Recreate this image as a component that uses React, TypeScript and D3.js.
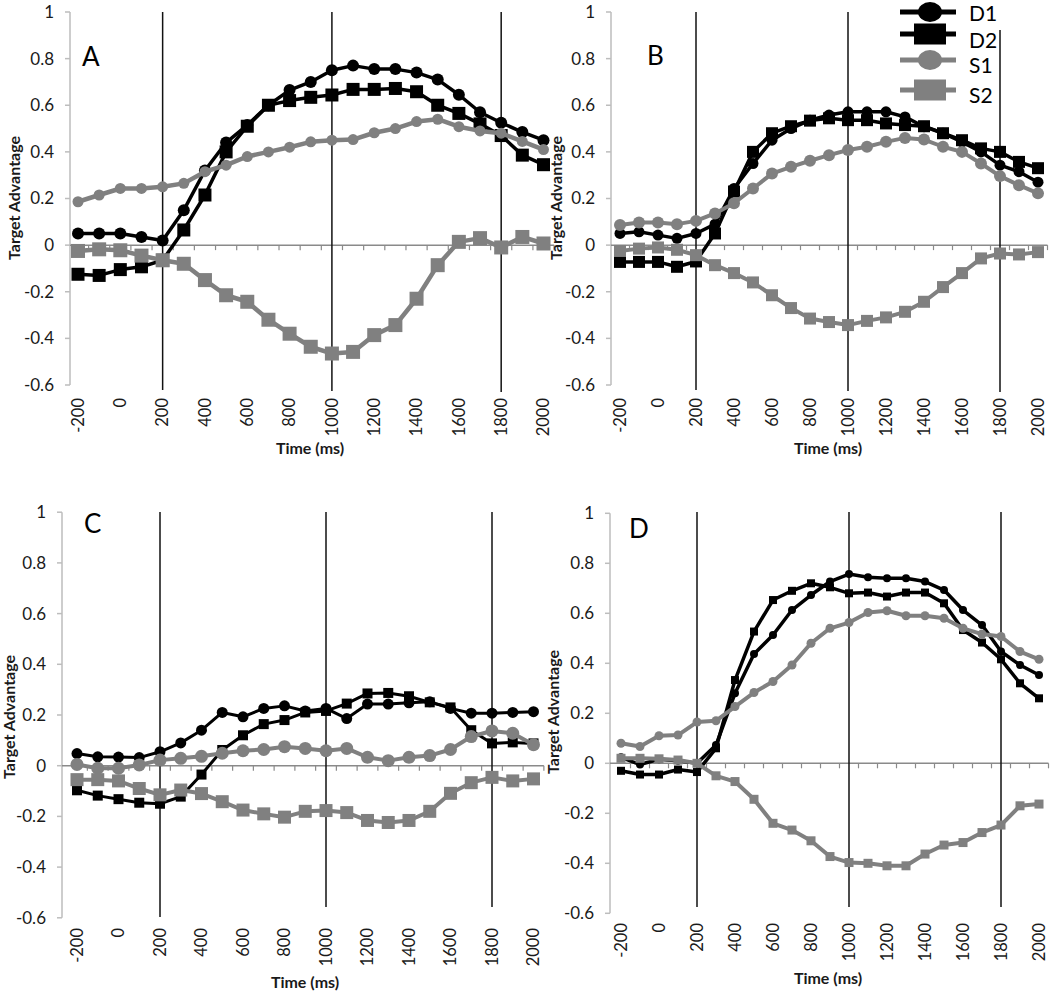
import React from "react";
import * as d3 from "d3";

const TIMES = [-200, -100, 0, 100, 200, 300, 400, 500, 600, 700, 800, 900, 1000, 1100, 1200, 1300, 1400, 1500, 1600, 1700, 1800, 1900, 2000];
const Y_TICKS = [-0.6, -0.4, -0.2, 0, 0.2, 0.4, 0.6, 0.8, 1];
const Y_TICK_LABELS = ["-0.6", "-0.4", "-0.2", "0", "0.2", "0.4", "0.6", "0.8", "1"];
const MARK_TIMES = [200, 1000, 1800];
const SERIES_NAMES = ["D1", "D2", "S1", "S2"];

const A_D1 = [0.05, 0.05, 0.05, 0.035, 0.02, 0.15, 0.32, 0.44, 0.515, 0.6, 0.665, 0.7, 0.75, 0.77, 0.755, 0.755, 0.74, 0.71, 0.645, 0.57, 0.525, 0.485, 0.45];
const A_D2 = [-0.125, -0.13, -0.105, -0.093, -0.065, 0.065, 0.215, 0.4, 0.51, 0.6, 0.62, 0.634, 0.644, 0.668, 0.668, 0.672, 0.658, 0.6, 0.565, 0.52, 0.47, 0.386, 0.345];
const A_S1 = [0.186, 0.215, 0.243, 0.243, 0.25, 0.265, 0.315, 0.343, 0.38, 0.4, 0.42, 0.443, 0.45, 0.453, 0.482, 0.5, 0.53, 0.54, 0.508, 0.49, 0.48, 0.445, 0.41];
const A_S2 = [-0.025, -0.018, -0.022, -0.045, -0.065, -0.08, -0.15, -0.215, -0.243, -0.32, -0.38, -0.436, -0.465, -0.458, -0.386, -0.343, -0.23, -0.086, 0.014, 0.03, -0.01, 0.035, 0.007];

const B_D1 = [0.05, 0.057, 0.043, 0.029, 0.05, 0.09, 0.243, 0.35, 0.45, 0.5, 0.536, 0.558, 0.572, 0.572, 0.572, 0.55, 0.508, 0.48, 0.443, 0.4, 0.343, 0.315, 0.27];
const B_D2 = [-0.072, -0.072, -0.072, -0.093, -0.07, 0.05, 0.23, 0.4, 0.48, 0.51, 0.534, 0.544, 0.536, 0.536, 0.522, 0.515, 0.51, 0.48, 0.45, 0.415, 0.4, 0.357, 0.33];
const B_S1 = [0.086, 0.097, 0.097, 0.09, 0.104, 0.136, 0.18, 0.243, 0.307, 0.336, 0.362, 0.386, 0.408, 0.422, 0.443, 0.46, 0.453, 0.422, 0.4, 0.35, 0.296, 0.257, 0.222];
const B_S2 = [-0.025, -0.015, -0.01, -0.02, -0.043, -0.086, -0.12, -0.16, -0.215, -0.27, -0.315, -0.33, -0.343, -0.325, -0.31, -0.286, -0.243, -0.18, -0.12, -0.057, -0.036, -0.04, -0.03];

const C_D1 = [0.048, 0.035, 0.034, 0.032, 0.055, 0.09, 0.14, 0.21, 0.193, 0.226, 0.236, 0.216, 0.226, 0.186, 0.243, 0.243, 0.248, 0.252, 0.226, 0.207, 0.207, 0.21, 0.213];
const C_D2 = [-0.097, -0.118, -0.132, -0.146, -0.15, -0.122, -0.035, 0.062, 0.12, 0.164, 0.18, 0.21, 0.216, 0.245, 0.285, 0.287, 0.274, 0.25, 0.23, 0.14, 0.088, 0.092, 0.088];
const C_S1 = [0.005, -0.01, -0.01, 0.003, 0.022, 0.029, 0.037, 0.049, 0.059, 0.064, 0.075, 0.068, 0.059, 0.068, 0.033, 0.02, 0.033, 0.04, 0.064, 0.115, 0.137, 0.128, 0.083];
const C_S2 = [-0.055, -0.055, -0.06, -0.09, -0.115, -0.096, -0.11, -0.142, -0.175, -0.19, -0.203, -0.18, -0.177, -0.185, -0.216, -0.224, -0.216, -0.18, -0.109, -0.067, -0.046, -0.06, -0.052];

const D_D1 = [0.024, -0.005, 0.016, 0.01, 0.0, 0.073, 0.28, 0.437, 0.513, 0.613, 0.673, 0.727, 0.757, 0.744, 0.74, 0.74, 0.727, 0.693, 0.613, 0.553, 0.447, 0.393, 0.353];
const D_D2 = [-0.03, -0.045, -0.045, -0.025, -0.035, 0.06, 0.333, 0.527, 0.653, 0.69, 0.72, 0.704, 0.68, 0.683, 0.667, 0.683, 0.683, 0.64, 0.533, 0.483, 0.416, 0.32, 0.26];
const D_S1 = [0.08, 0.067, 0.11, 0.113, 0.165, 0.17, 0.227, 0.283, 0.327, 0.393, 0.48, 0.54, 0.563, 0.603, 0.61, 0.59, 0.59, 0.58, 0.54, 0.517, 0.507, 0.447, 0.416];
const D_S2 = [0.02, 0.02, 0.018, 0.013, 0.0, -0.05, -0.073, -0.144, -0.24, -0.267, -0.31, -0.373, -0.397, -0.4, -0.41, -0.41, -0.363, -0.327, -0.317, -0.277, -0.247, -0.17, -0.163];

const BLACK = "#000000";
const GRAY = "#808080";
const FONT = "Lato, 'Open Sans', sans-serif";

const PANELS = [
  {
    letter: "A", series: [A_D1, A_D2, A_S1, A_S2],
    axisX: 70, yTop: 12, yBot: 385, x0: 78, x1: 543.5,
    vTops: [12, 12, 12], vBots: [390, 391, 392], tickTop: 398,
    timeX: 310, timeY: 454, taX: 20, taY: 198, letX: 82, letY: 66,
    sizes: { c1: 6, sq1: 13, c2: 5.5, sq2: 14 }, widths: { b: 3.5, g: 4.5 },
  },
  {
    letter: "B", series: [B_D1, B_D2, B_S1, B_S2],
    axisX: 611, yTop: 12, yBot: 385, x0: 620, x1: 1038,
    vTops: [12, 12, 30], vBots: [390, 391, 392], tickTop: 398,
    timeX: 828, timeY: 454, taX: 562, taY: 198, letX: 647, letY: 65,
    sizes: { c1: 5.5, sq1: 12, c2: 6, sq2: 12 }, widths: { b: 3.5, g: 4 },
  },
  {
    letter: "C", series: [C_D1, C_D2, C_S1, C_S2],
    axisX: 62, yTop: 512.2, yBot: 917.8, x0: 77, x1: 533.5,
    vTops: [512, 512, 512], vBots: [917, 907, 907], tickTop: 928,
    timeX: 305, timeY: 988, taX: 15, taY: 717, letX: 84, letY: 533,
    sizes: { c1: 5.5, sq1: 10, c2: 6.5, sq2: 13 }, widths: { b: 3, g: 4 },
  },
  {
    letter: "D", series: [D_D1, D_D2, D_S1, D_S2],
    axisX: 610, yTop: 513.3, yBot: 913.3, x0: 621, x1: 1039,
    vTops: [512, 512, 512], vBots: [907, 907, 907], tickTop: 923,
    timeX: 828, timeY: 984, taX: 559, taY: 712, letX: 629, letY: 538,
    sizes: { c1: 4, sq1: 8, c2: 4.5, sq2: 9 }, widths: { b: 3.5, g: 4 },
  },
];

function Panel({ p }) {
  const x = d3.scaleLinear().domain([TIMES[0], TIMES[TIMES.length - 1]]).range([p.x0, p.x1]);
  const y = d3.scaleLinear().domain([-0.6, 1]).range([p.yBot, p.yTop]);
  const step = x(TIMES[1]) - x(TIMES[0]);
  const line = d3.line<number>().x((_, i) => x(TIMES[i])).y((v) => y(v));
  const zeroY = y(0);
  const xEnd = x(TIMES[TIMES.length - 1]) + step / 2;
  const colors = [BLACK, BLACK, GRAY, GRAY];
  const shapes = ["circle", "square", "circle", "square"];
  const sz = [p.sizes.c1, p.sizes.sq1, p.sizes.c2, p.sizes.sq2];
  const lw = [p.widths.b, p.widths.b, p.widths.g, p.widths.g];
  return (
    <g>
      <line x1={p.axisX} x2={p.axisX} y1={p.yTop} y2={p.yBot} stroke="#bdbdbd" strokeWidth={1.5} />
      {Y_TICKS.map((t, i) => (
        <g key={"yt" + i}>
          <line x1={p.axisX - 5} x2={p.axisX} y1={y(t)} y2={y(t)} stroke="#bdbdbd" strokeWidth={1.5} />
          <text x={p.axisX - 16} y={y(t)} dy="0.35em" textAnchor="end" fontFamily={FONT} fontSize={17} fill="#1a1a1a">
            {Y_TICK_LABELS[i]}
          </text>
        </g>
      ))}
      <line x1={p.axisX} x2={xEnd} y1={zeroY} y2={zeroY} stroke="#8a8a8a" strokeWidth={1.5} />
      {TIMES.map((t, i) => (
        <line key={"xt" + i} x1={x(t) + step / 2} x2={x(t) + step / 2} y1={zeroY} y2={zeroY + 5} stroke="#8a8a8a" strokeWidth={1.2} />
      ))}
      {TIMES.map((t, i) => (
        i % 2 === 0 ? (
          <text key={"xl" + i} transform={`translate(${x(t)},${p.tickTop}) rotate(-90)`} dy="0.35em" textAnchor="end" fontFamily={FONT} fontSize={16.5} fill="#1a1a1a">
            {String(t)}
          </text>
        ) : null
      ))}
      {MARK_TIMES.map((t, i) => (
        <line key={"v" + i} x1={x(t)} x2={x(t)} y1={p.vTops[i]} y2={p.vBots[i]} stroke="#111" strokeWidth={1.5} />
      ))}
      {p.series.map((vals, si) => (
        <g key={"s" + si}>
          <path d={line(vals) || ""} fill="none" stroke={colors[si]} strokeWidth={lw[si]} strokeLinejoin="round" />
          {vals.map((v, i) =>
            shapes[si] === "circle" ? (
              <circle key={i} cx={x(TIMES[i])} cy={y(v)} r={sz[si]} fill={colors[si]} />
            ) : (
              <rect key={i} x={x(TIMES[i]) - sz[si] / 2} y={y(v) - sz[si] / 2} width={sz[si]} height={sz[si]} fill={colors[si]} />
            )
          )}
        </g>
      ))}
      <text x={p.letX} y={p.letY} fontFamily={FONT} fontSize={26} fill="#000">{p.letter}</text>
      <text x={p.timeX} y={p.timeY} textAnchor="middle" fontFamily={FONT} fontSize={16} fontWeight="bold" fill="#1a1a1a">Time (ms)</text>
      <text transform={`translate(${p.taX},${p.taY}) rotate(-90)`} textAnchor="middle" fontFamily={FONT} fontSize={16} fontWeight="bold" fill="#1a1a1a">Target Advantage</text>
    </g>
  );
}

function Legend() {
  const rowsY = [12, 34, 60, 90];
  const textY = [21, 48, 73, 103];
  const colors = [BLACK, BLACK, GRAY, GRAY];
  const shapes = ["circle", "square", "circle", "square"];
  return (
    <g>
      {SERIES_NAMES.map((n, i) => (
        <g key={n}>
          <rect x={900} y={rowsY[i] - 2.5} width={56} height={5} fill={colors[i]} />
          {shapes[i] === "circle" ? (
            <ellipse cx={930} cy={rowsY[i]} rx={12} ry={10} fill={colors[i]} />
          ) : (
            <rect x={914} y={rowsY[i] - 10.5} width={32} height={21} fill={colors[i]} />
          )}
          <text x={969} y={textY[i]} fontFamily={FONT} fontSize={21} fill="#000">{n}</text>
        </g>
      ))}
    </g>
  );
}

export default function App() {
  return (
    <svg width={1050} height={992} style={{ position: "absolute", left: 0, top: 0, background: "#fff" }}>
      <rect x={0} y={0} width={1050} height={992} fill="#fff" />
      {PANELS.map((p) => <Panel key={p.letter} p={p} />)}
      <Legend />
    </svg>
  );
}
